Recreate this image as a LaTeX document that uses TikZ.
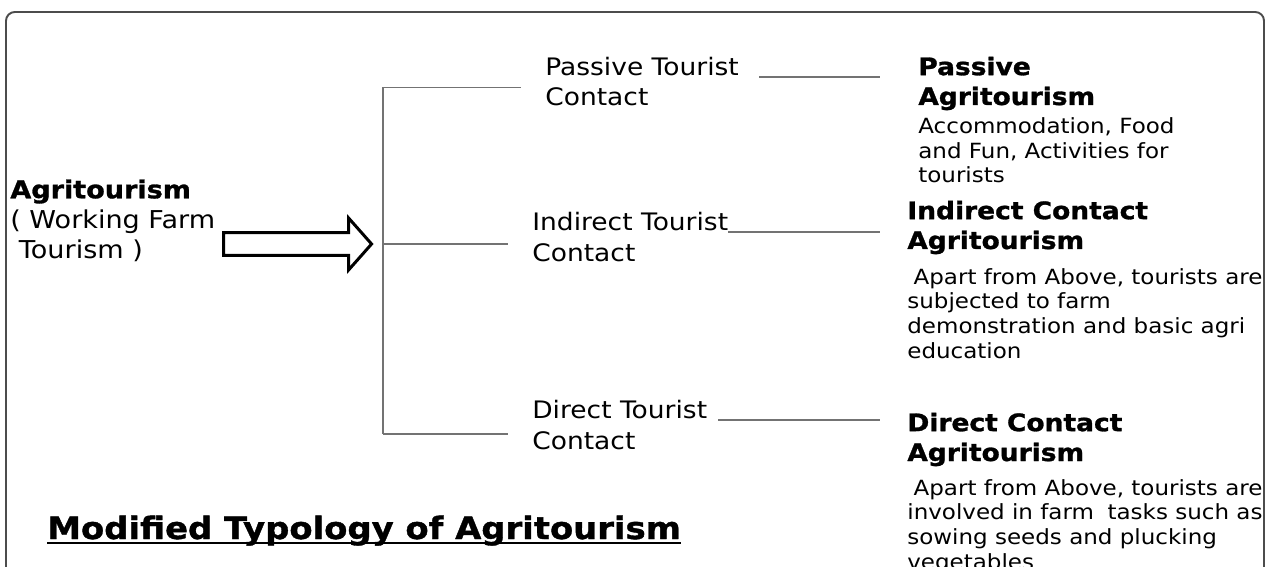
\documentclass[tikz,border=0pt]{standalone}
\usepackage{fontspec}
\setmainfont{DejaVu Sans}[FakeStretch=1.1, BoldFeatures={FakeBold=1.2}]
\usetikzlibrary{shapes.arrows}

\begin{document}
\begin{tikzpicture}[x=0.02cm, y=-0.02cm,
  txt/.style={inner sep=0pt, anchor=base west, align=left, text=black},
  mid/.style={txt, font=\fontsize{13.7}{17.6}\selectfont},
  hd/.style={txt, font=\fontsize{13.7}{17}\selectfont\bfseries},
  desc/.style={txt, font=\fontsize{11.9}{14}\selectfont},
  link/.style={draw=black!55, line width=0.85pt},
  frame/.style={draw=black!70, line width=1.1pt, rounded corners=5pt},
  fatarrow/.style={single arrow, draw=black, line width=1.7pt, minimum height=2.96cm,
    inner xsep=0pt, inner ysep=0.2cm, single arrow head extend=0.29cm,
    single arrow tip angle=97}]
\useasboundingbox (0,0) rectangle (1266,567);
\clip (0,0) rectangle (1266,567);
\draw[frame] (6,620) |- (1264,12) -- (1264,620);

% left side (nodes sit on their last baseline)
\node[txt, font=\fontsize{14}{17}\selectfont] (src) at (10,258)
  {\textbf{Agritourism}\\( Working Farm\\\hspace{0.35em}Tourism )};
\node[fatarrow] (arr) at (292.5,244) {};

% three kinds of contact
\node[mid] (pct) at (545,106) {Passive Tourist\\Contact};
\node[mid] (ict) at (532,261) {Indirect Tourist\\Contact};
\node[mid] (dct) at (532,449) {Direct Tourist\\Contact};

% resulting types
\node[hd] (pa) at (918,105) {Passive\\Agritourism};
\node[desc] (pd) at (918,183) {Accommodation, Food\\and Fun, Activities for\\tourists};
\node[hd] (ia) at (907,249) {Indirect Contact\\Agritourism};
\node[desc] (id) at (907,358) {\hspace{0.3em}Apart from Above, tourists are\\subjected to farm\\demonstration and basic agri\\education};
\node[hd] (da) at (907,461) {Direct Contact\\Agritourism};
\node[desc] (dd) at (907,569) {\hspace{0.3em}Apart from Above, tourists are\\involved in farm\hspace{0.3em} tasks such as\\sowing seeds and plucking\\vegetables};

\node[txt, font=\fontsize{17.5}{20}\selectfont\bfseries] (ttl) at (47,539) {Modified Typology of Agritourism};
\draw[line width=1.1pt] ([yshift=-2.4pt]ttl.base west) -- ([yshift=-2.4pt]ttl.base east);

% bracket
\coordinate (spine) at (383,244);
\draw[link] ([yshift=-3.3pt]spine |- pct.west) -- ([yshift=-5.3pt]spine |- dct.west);
\foreach \m/\d in {pct/-3.3pt,ict/-4.3pt,dct/-5.3pt}
  \draw[link, shorten >=0.48cm] ([yshift=\d]spine |- \m.west) -- ([yshift=\d]\m.west);

% lines to the types
\foreach \m/\r/\s/\t in {pct/pa/0.4cm/0.76cm, ict/ia/0pt/0.54cm, dct/da/0.22cm/0.54cm}
  \draw[link, shorten <=\s, shorten >=\t] ([yshift=16.4pt]\m.base east) -- ([yshift=16.4pt]\m.base east -| \r.west);
\end{tikzpicture}
\end{document}
